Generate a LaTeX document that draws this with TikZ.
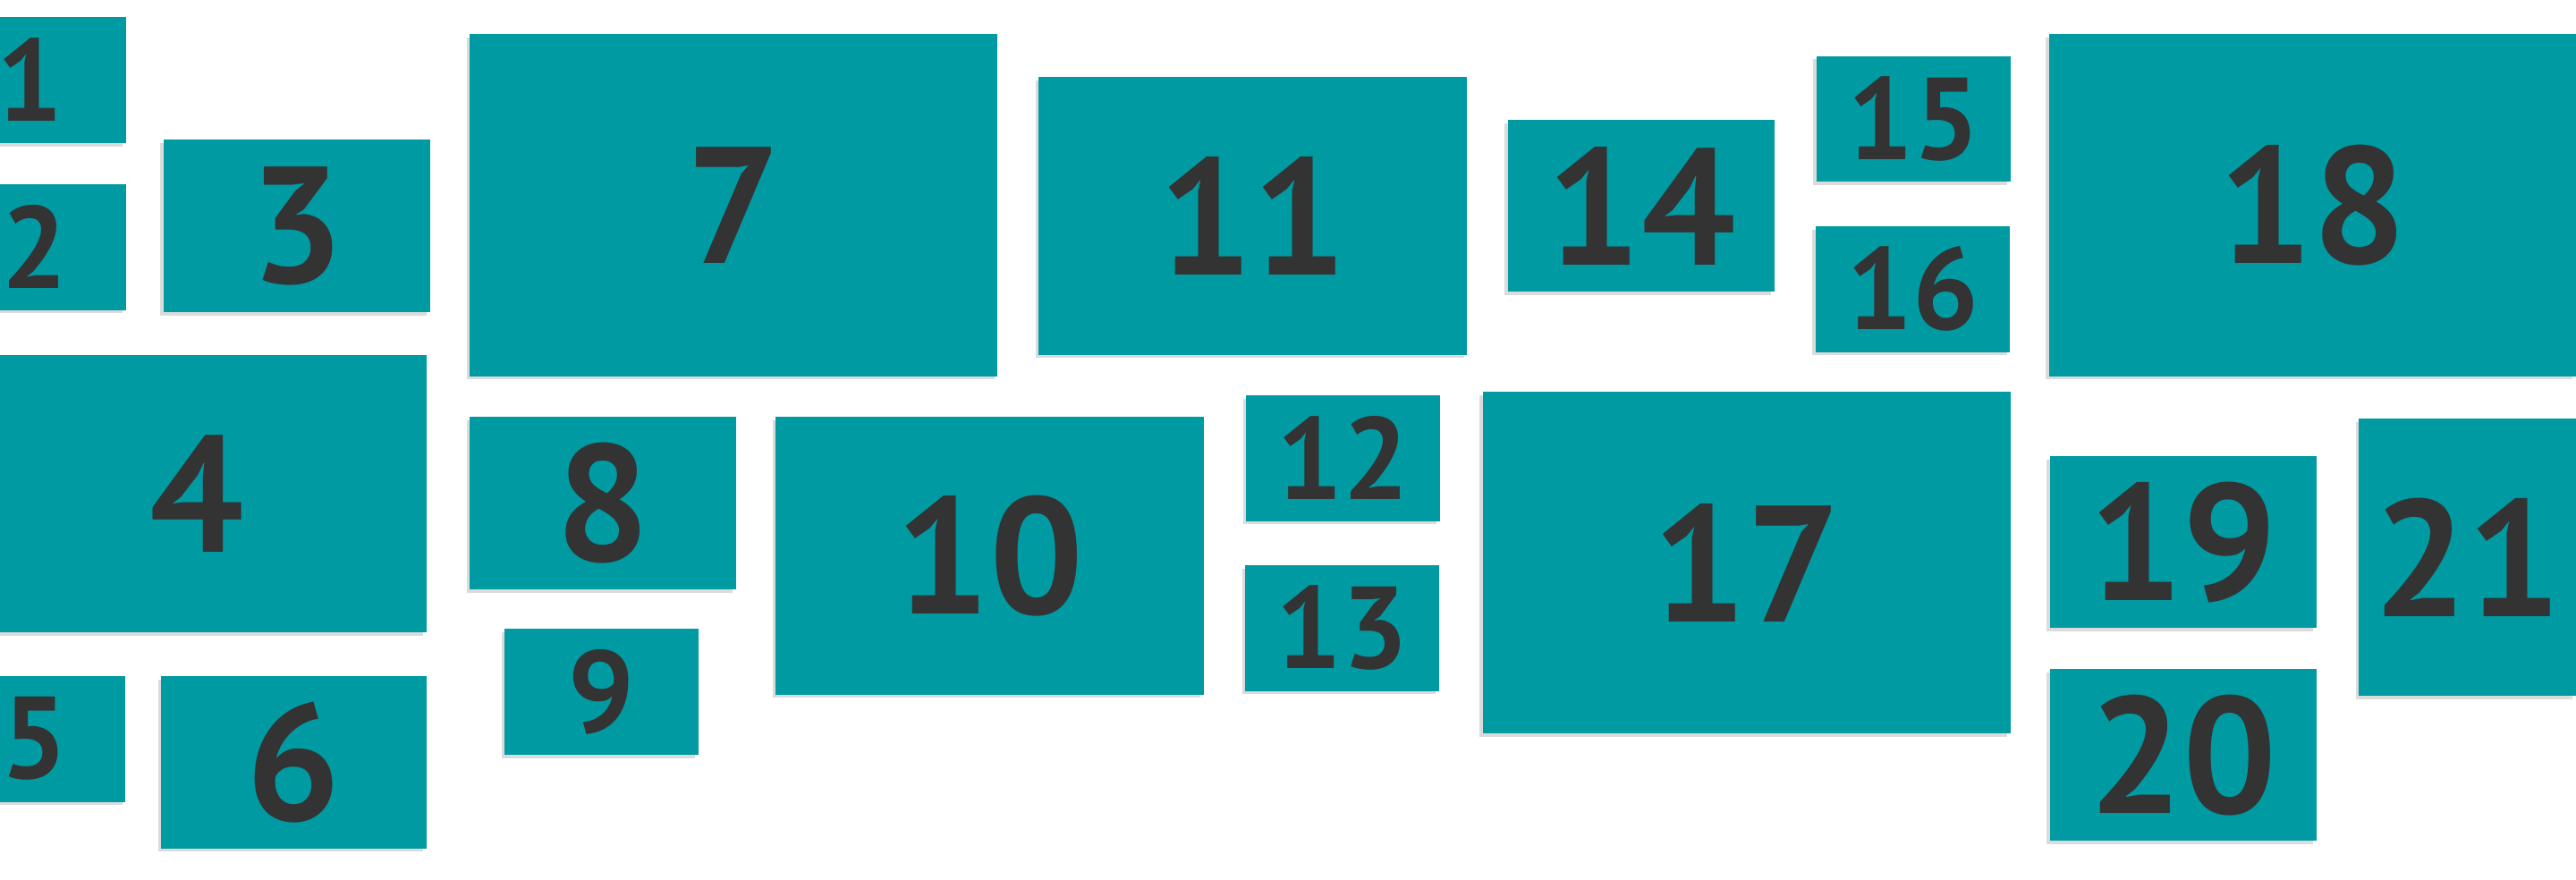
\documentclass[tikz,border=0pt]{standalone}
\usepackage{fontspec}
\setmainfont{PT Sans}
\usetikzlibrary{shadows}
\definecolor{tealfill}{RGB}{0,154,162}
\definecolor{inkgray}{RGB}{51,51,51}
\begin{document}
\begin{tikzpicture}[x=1pt,y=-1pt,
  tile/.style={fill=tealfill, draw=none, inner sep=0pt, text=inkgray,
    font=\bfseries\fontsize{101}{101}\selectfont,
    drop shadow={shadow xshift=-2pt, shadow yshift=-2pt, fill=black, opacity=0.14}},
  small/.style={font=\bfseries\fontsize{71}{71}\selectfont},
  wh/.style 2 args={minimum width=#1pt, minimum height=#2pt}]
\useasboundingbox (0,0) rectangle (1568,535.7);
\clip (0,0) rectangle (1568,535.7);
% column 1
\node[tile, small, wh={116.7}{76.8}] (n1) at (18.3,48.7) {1};
\node[tile, small, wh={111.7}{76.5}] (n2) at (20.8,150.45) {2};
\node[tile, wh={162.3}{105.1}] (n3) at (180.75,137.45) {3};
\node[tile, wh={279.5}{169}] (n4) at (119.75,300.6) {4};
\node[tile, small, wh={111.4}{76.5}] (n5) at (20.7,449.85) {5};
\node[tile, wh={161.4}{104.9}] (n6) at (178.8,464.05) {6};
% column 2
\node[tile, wh={321.2}{208.2}] (n7) at (446.6,124.9) {7};
\node[tile, wh={162.1}{105}] (n8) at (367.05,306.4) {8};
\node[tile, small, wh={118}{76.9}] (n9) at (366.2,421.25) {9};
\node[tile, wh={260.5}{168.9}] (n10) at (602.45,338.35) {10};
\node[tile, wh={260.9}{169.2}] (n11) at (762.65,131.4) {11};
\node[tile, small, wh={117.9}{76.6}] (n12) at (817.45,278.9) {12};
\node[tile, small, wh={118}{76.5}] (n13) at (817,382.45) {13};
% column 3
\node[tile, wh={162.1}{104.6}] (n14) at (999.05,125.4) {14};
\node[tile, small, wh={118.1}{76.5}] (n15) at (1164.85,72.45) {15};
\node[tile, small, wh={118.3}{76.6}] (n16) at (1164.45,176) {16};
\node[tile, wh={321.3}{208.1}] (n17) at (1063.25,342.65) {17};
% column 4
\node[tile, wh={320.7}{208.2}] (n18) at (1407.65,124.9) {18};
\node[tile, wh={162.2}{104.5}] (n19) at (1328.9,330.15) {19};
\node[tile, wh={162.2}{104.6}] (n20) at (1328.9,459.7) {20};
\node[tile, wh={132.2}{168.8}] (n21) at (1501.9,339.4) {21};
\end{tikzpicture}
\end{document}
